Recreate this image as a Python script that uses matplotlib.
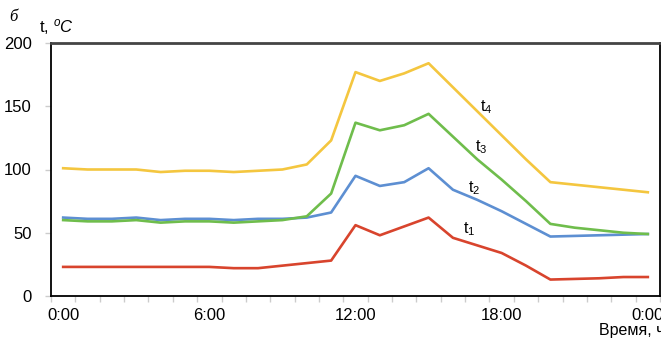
import numpy as np
import matplotlib
matplotlib.use("Agg")
import matplotlib.pyplot as plt

plt.rcParams['font.family'] = ['Liberation Sans', 'DejaVu Sans']
plt.rcParams['mathtext.fontset'] = 'custom'
plt.rcParams['mathtext.rm'] = 'Liberation Sans'
plt.rcParams['mathtext.it'] = 'Liberation Sans:italic'

# часы: 0:00 ... 0:00 следующего дня (25 категорий)
hours = [f"{h % 24}:00" for h in range(25)]

t1 = [23, 23, 23, 23, 23, 23, 23, 22, 22, 24, 26, 28, 56, 48, 55, 62,
      46, 40, 34, 24, 13, 13.5, 14, 15, 15]
t2 = [62, 61, 61, 62, 60, 61, 61, 60, 61, 61, 62, 66, 95, 87, 90, 101,
      84, 76, 67, 57, 47, 47.5, 48, 48.5, 49]
t3 = [60, 59, 59, 60, 58, 59, 59, 58, 59, 60, 63, 81, 137, 131, 135, 144,
      126, 108, 92, 75, 57, 54, 52, 50, 49]
t4 = [101, 100, 100, 100, 98, 99, 99, 98, 99, 100, 104, 123, 177, 170, 176, 184,
      165, 146, 127, 108, 90, 88, 86, 84, 82]

series = [("t$_1$", t1, "#d8442d"), ("t$_2$", t2, "#5d8fd2"),
          ("t$_3$", t3, "#6fbd4c"), ("t$_4$", t4, "#f4c63f")]
label_pos = {"t$_1$": (16.9, 53), "t$_2$": (17.1, 85),
             "t$_3$": (17.4, 118), "t$_4$": (17.6, 149)}

fig = plt.figure(figsize=(6.61, 3.39), dpi=100)
ax = fig.add_axes([51 / 661, 1 - 296 / 339, 609 / 661, 253 / 339])

x = np.arange(len(hours)) + 0.5
for name, vals, col in series:
    ax.plot(x, vals, color=col, lw=1.9, solid_joinstyle='round')
    lx, ly = label_pos[name]
    ax.text(lx, ly, name, fontsize=11.5, ha='left', va='center')

ax.set_xlim(0, 25)
ax.set_ylim(0, 200)
ax.set_yticks([0, 50, 100, 150, 200])
ax.set_xticks(x[::6])
ax.set_xticklabels(hours[::6])
ax.set_xticks(np.arange(0, 26), minor=True)
ax.tick_params(axis='x', which='major', length=0, pad=9, labelsize=12)
ax.tick_params(axis='x', which='minor', length=4, color='#cccccc', width=1)
ax.tick_params(axis='y', length=4, color='#cccccc', width=1, pad=10, labelsize=12)

for s in ['left', 'bottom', 'right']:
    ax.spines[s].set_color('black')
    ax.spines[s].set_linewidth(1.3)
ax.spines['top'].set_color('#444444')
ax.spines['top'].set_linewidth(2)

fig.text(39 / 661, 1 - 32 / 339, r"t, $^{\mathit{o}}\mathit{C}$", fontsize=12,
         ha='left', va='baseline')
fig.text(9 / 661, 1 - 21 / 339, "б", fontsize=12, style='italic',
         family=['Liberation Serif', 'DejaVu Serif'], ha='left', va='baseline')
fig.text(599 / 661, 1 - 335 / 339, "Время, ч", fontsize=11.5,
         ha='left', va='baseline')

fig.savefig("out.png", dpi=100)
